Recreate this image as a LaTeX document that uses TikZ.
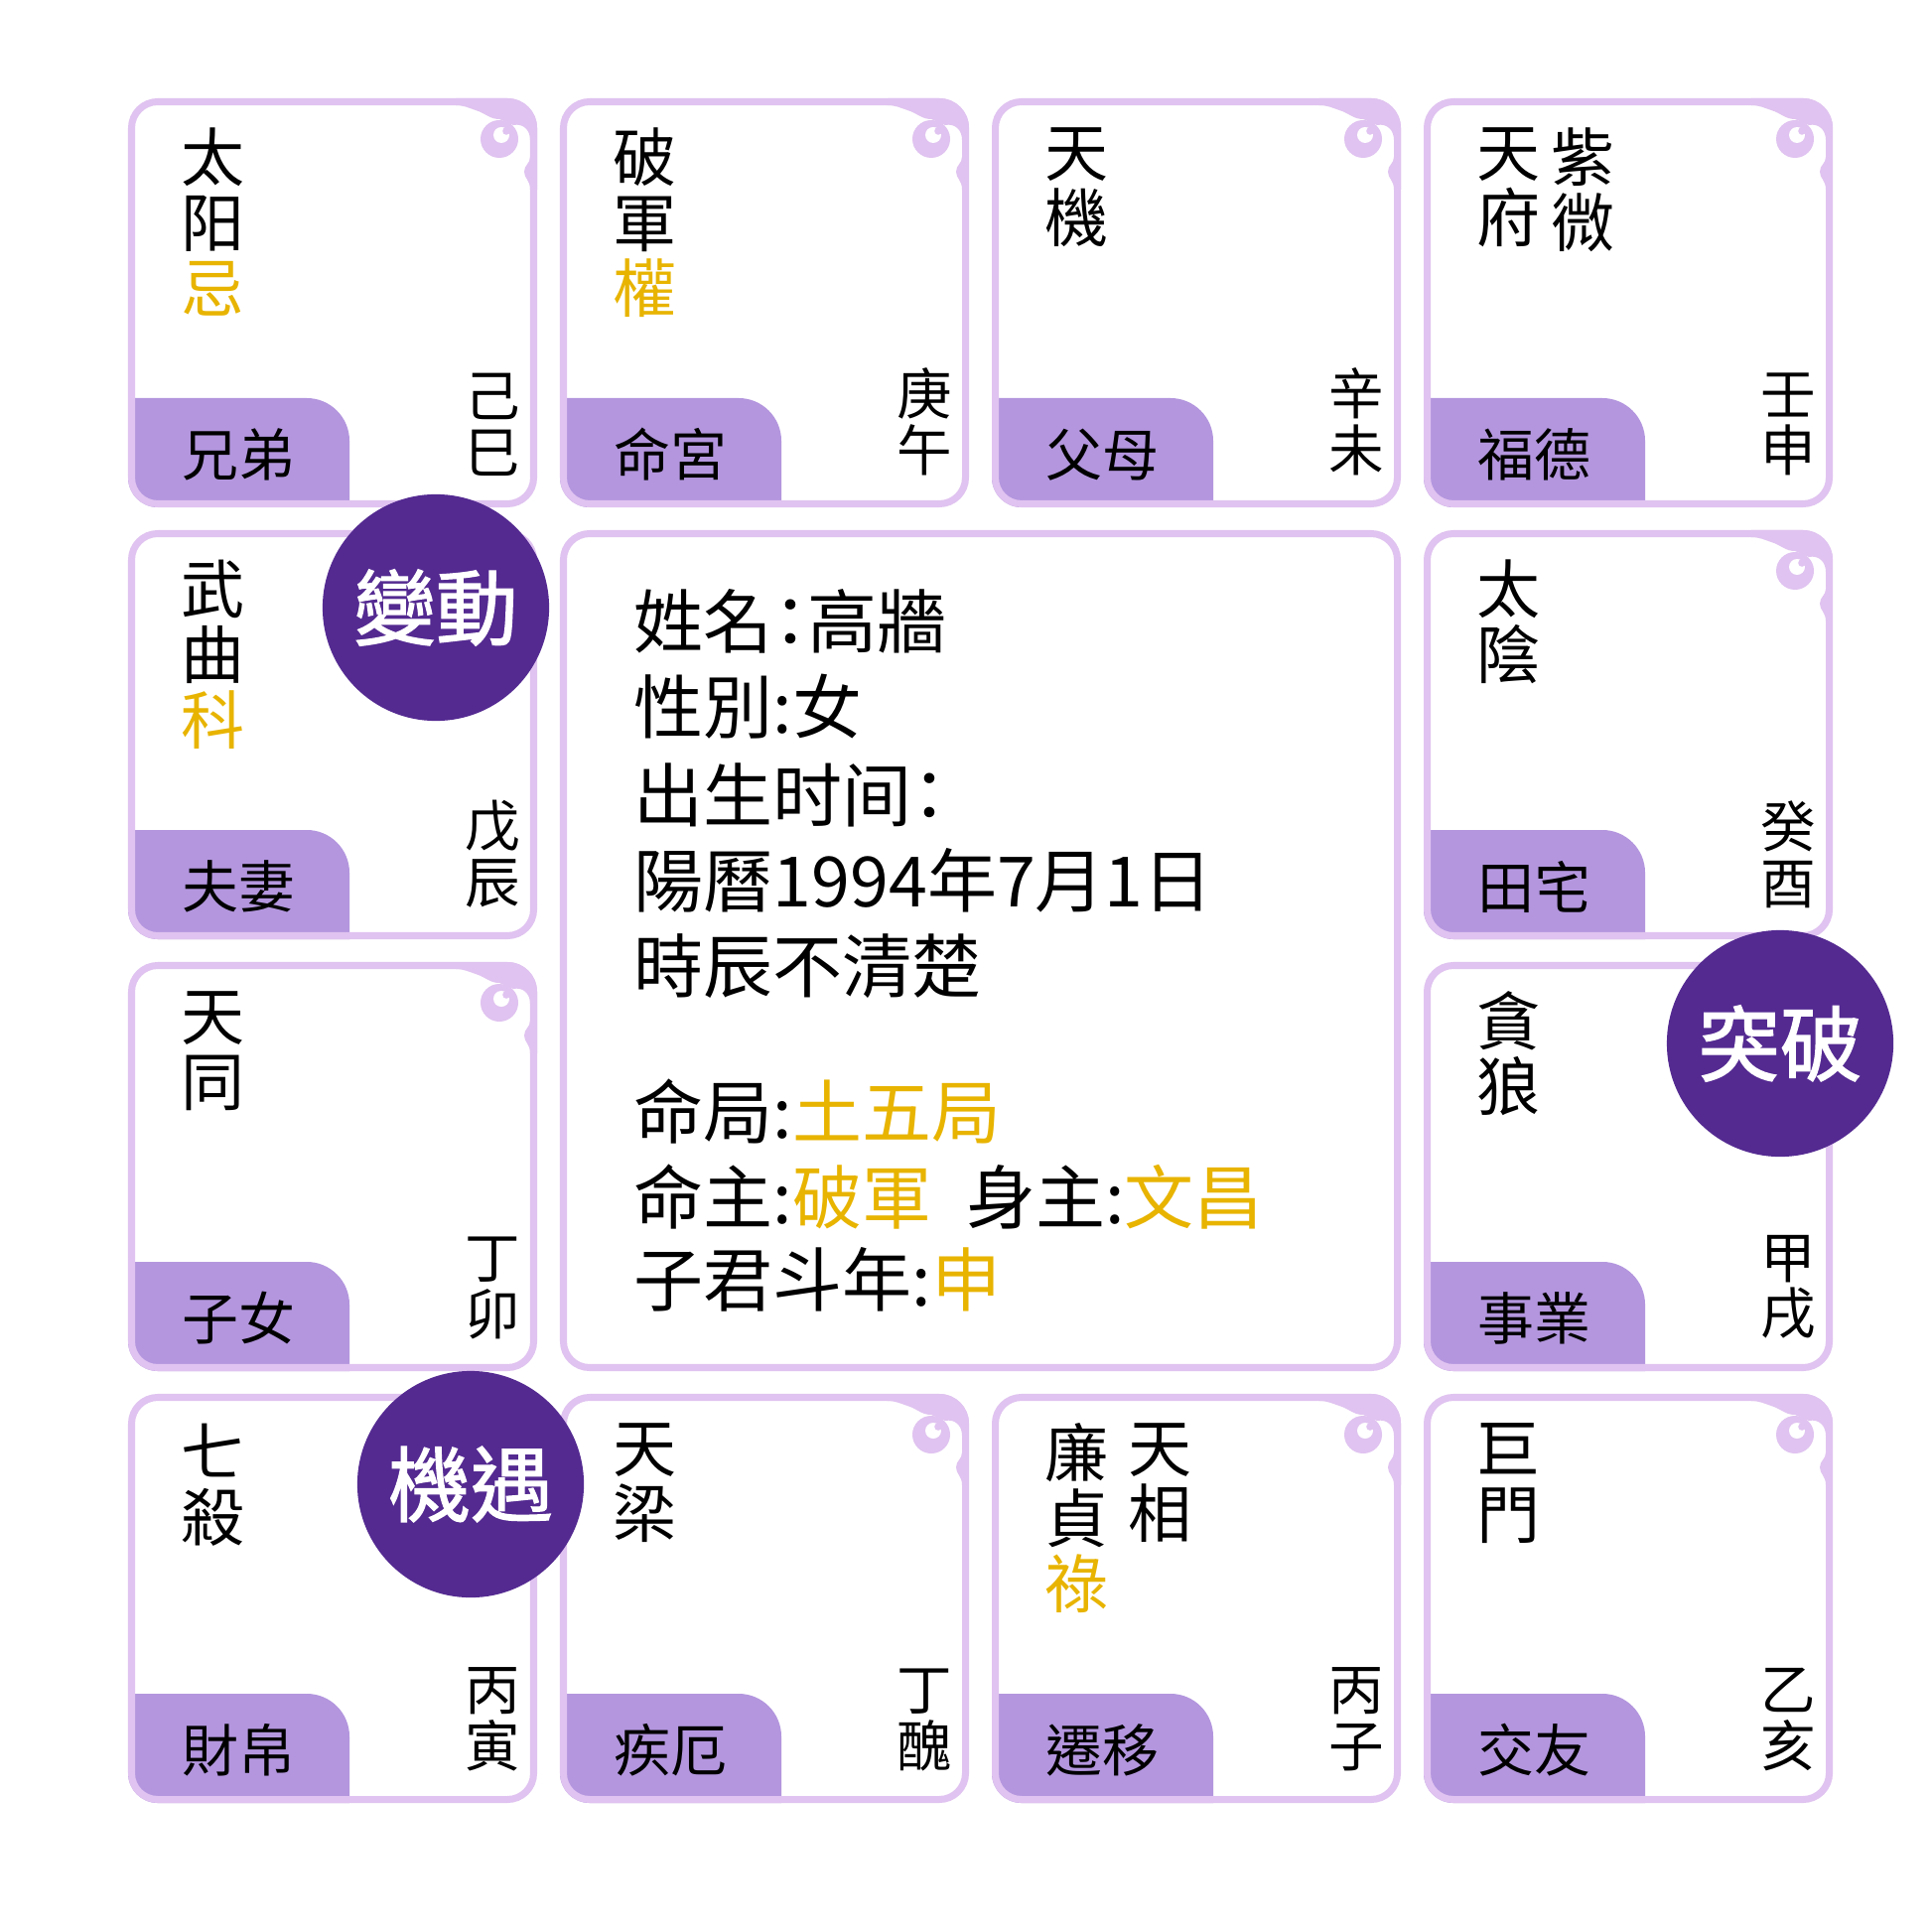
\documentclass[tikz,border=0pt]{standalone}
\usepackage{fontspec}
\setmainfont{Noto Sans CJK TC}[RawFeature=+halt]
\newfontfamily\badgefont{Noto Sans CJK TC}[FakeBold=1.6]
\definecolor{lilac}{HTML}{E0C3F0}
\definecolor{tabpurple}{HTML}{B396DE}
\definecolor{badgepurple}{HTML}{542A91}
\definecolor{gold}{HTML}{E8B400}
\newcommand{\starfont}{\fontsize{18.2}{18.8}\selectfont}
\newcommand{\palfont}{\fontsize{16.2}{16.2}\selectfont}
\newcommand{\stemfont}{\fontsize{15.8}{16.2}\selectfont}
\newcommand{\infofont}{\fontsize{19.9}{24}\selectfont}
\newcommand{\hua}[1]{\textcolor{gold}{#1}}
\tikzset{
	star/.style={font=\starfont, align=center, inner sep=0pt, anchor=north},
	palace/.style={font=\palfont, inner sep=0pt, anchor=west},
	stem/.style={font=\stemfont, align=center, inner sep=0pt, anchor=south},
	info/.style={font=\infofont, inner sep=0pt, anchor=base west},
	badge/.style={circle, fill=badgepurple, text=white, font=\badgefont\fontsize{23.5}{24}\selectfont, minimum size=64.9pt, inner sep=0pt},
	cellline/.style={draw=lilac, line width=2pt, rounded corners=7.5pt},
	curl/.pic={
		\fill[lilac] (-82,0) -- (0,0) -- (0,92) -- (-7,92) .. controls (-7,82) and (-13,81) .. (-13,74) .. controls (-13,67) and (-7,66) .. (-7,59) -- (-7,42) .. controls (-7,32) and (-14,25) .. (-24,27) -- (-38,21) .. controls (-48,21) and (-52,15) .. (-62,12) .. controls (-68,10) and (-74,7) .. (-82,7) -- cycle;
		\fill[lilac] (-38,41) circle (19);
		\fill[white] (-36,37) circle (8);
		\fill[lilac] (-31,33) circle (3.8);
	}
}

\begin{document}
\begin{tikzpicture}[x=0.01cm,y=-0.01cm]
	\useasboundingbox (0,0) rectangle (1946,1946);
	\fill[white] (0,0) rectangle (1946,1946);
	% palace boxes
	\foreach \i/\j in {0/0,1/0,2/0,3/0,0/1,3/1,0/2,3/2,0/3,1/3,2/3,3/3}{
		\begin{scope}[shift={(129+435*\i,99+435*\j)}]
			\begin{scope}
				\clip[rounded corners=8.5pt] (0,0) rectangle (412,412);
				\fill[tabpurple] (0,302) -- (180,302) .. controls (203.7,302) and (223,321.3) .. (223,345) -- (223,412) -- (0,412) -- cycle;
			\end{scope}
			\draw[cellline] (3.5,3.5) rectangle (408.5,408.5);
		\end{scope}
	}
	% corner curls
	\foreach \i/\j in {0/0,1/0,2/0,3/0,3/1,0/2,1/3,2/3,3/3}{
		\begin{scope}[shift={(129+435*\i,99+435*\j)}]
			\clip[rounded corners=8.5pt] (0,0) rectangle (412,412);
			\pic at (412,0) {curl};
		\end{scope}
	}
	\draw[cellline] (567.5,537.5) rectangle (1407.5,1377.5);

	% row 1
	\node[star] (s11) at (214,128){太\\阳\\\hua{忌}};
	\node[palace] (p11) at (183,458){兄弟};
	\node[stem] (g11) at (496,480){己\\巳};
	\node[star] (s12) at (649,128){破\\軍\\\hua{權}};
	\node[palace] (p12) at (618,458){命宮};
	\node[stem] (g12) at (931,480){庚\\午};
	\node[star] (s13) at (1084,128){天\\機};
	\node[palace] (p13) at (1053,458){父母};
	\node[stem] (g13) at (1366,480){辛\\未};
	\node[star] (s14) at (1519,128){天\\府};
	\node[star] (t14) at (1594,128){紫\\微};
	\node[palace] (p14) at (1488,458){福德};
	\node[stem] (g14) at (1801,480){壬\\申};
	% row 2
	\node[star] (s21) at (214,563){武\\曲\\\hua{科}};
	\node[palace] (p21) at (183,893){夫妻};
	\node[stem] (g21) at (496,915){戊\\辰};
	\node[star] (s24) at (1519,563){太\\陰};
	\node[palace] (p24) at (1488,893){田宅};
	\node[stem] (g24) at (1801,915){癸\\酉};
	% row 3
	\node[star] (s31) at (214,998){天\\同};
	\node[palace] (p31) at (183,1328){子女};
	\node[stem] (g31) at (496,1350){丁\\卯};
	\node[star] (s34) at (1519,998){貪\\狼};
	\node[palace] (p34) at (1488,1328){事業};
	\node[stem] (g34) at (1801,1350){甲\\戌};
	% row 4
	\node[star] (s41) at (214,1433){七\\殺};
	\node[palace] (p41) at (183,1763){財帛};
	\node[stem] (g41) at (496,1785){丙\\寅};
	\node[star] (s42) at (649,1433){天\\梁};
	\node[palace] (p42) at (618,1763){疾厄};
	\node[stem] (g42) at (931,1785){丁\\醜};
	\node[star] (s43) at (1084,1433){廉\\貞\\\hua{祿}};
	\node[star] (t43) at (1168,1433){天\\相};
	\node[palace] (p43) at (1053,1763){遷移};
	\node[stem] (g43) at (1366,1785){丙\\子};
	\node[star] (s44) at (1519,1433){巨\\門};
	\node[palace] (p44) at (1488,1763){交友};
	\node[stem] (g44) at (1801,1785){乙\\亥};

	% centre info
	\node[info] (n1) at (638,652){姓名：高牆};
	\node[info] (n2) at (638,738){性別:女};
	\node[info] (n3) at (638,827){出生时间：};
	\node[info] (n4) at (638,913){陽曆1994年7月1日};
	\node[info] (n5) at (638,999){時辰不清楚};
	\node[info] (n6) at (638,1146){命局:\hua{土五局}};
	\node[info] (n7) at (638,1232){命主:\hua{破軍}\enspace 身主:\hua{文昌}};
	\node[info] (n8) at (638,1315){子君斗年:\hua{申}};

	% badges
	\node[badge] (b1) at (439,612){變動};
	\node[badge] (b2) at (1793,1051){突破};
	\node[badge] (b3) at (474,1495){機遇};
\end{tikzpicture}
\end{document}
